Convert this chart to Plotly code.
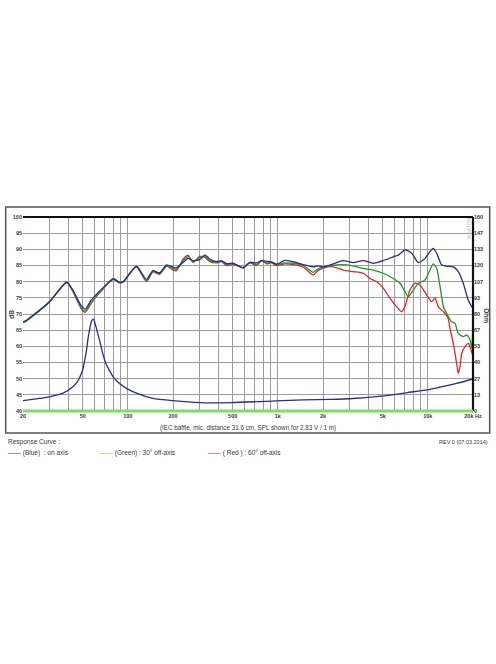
import plotly.graph_objects as go

# ---------------- data ----------------
blue_f = [20, 21, 25.8, 30, 38, 39.5, 43, 49, 52, 57, 68, 80, 88, 93, 114, 133, 147, 163, 181, 200,
          211, 234, 252, 272, 302, 326, 352, 390, 421, 455, 503, 531, 587, 650, 721, 778, 841, 908,
          980, 1114, 1265, 1476, 1721, 1858, 2006, 2340, 2729, 3180, 3708, 4326, 5043, 5880, 6352,
          7036, 7800, 8630, 9570, 10330, 10860, 11456, 12360, 13350, 14780, 15960, 17220, 18600,
          19590, 20000]
blue_db = [67.5, 68.0, 71.2, 73.8, 79.5, 79.8, 77.4, 72.5, 71.5, 74.3, 78.0, 80.7, 79.8, 80.0, 84.8,
           80.7, 83.4, 82.7, 85.2, 84.5, 84.3, 86.0, 87.2, 86.5, 86.8, 88.3, 87.0, 86.2, 86.5, 85.6,
           85.7, 85.2, 84.2, 86.0, 85.8, 86.5, 86.3, 86.1, 85.4, 86.6, 86.2, 85.3, 84.6, 84.9, 84.6,
           85.5, 86.5, 85.9, 86.5, 85.7, 86.5, 87.7, 88.2, 89.8, 88.8, 85.9, 87.2, 89.3, 90.3, 88.8,
           85.2, 84.8, 84.6, 83.1, 79.5, 74.3, 72.3, 71.8]

green_f = [20, 21, 25.8, 30, 38, 39.5, 43, 49, 52, 57, 68, 80, 88, 93, 114, 133, 147, 163, 181, 200,
           211, 234, 252, 272, 302, 326, 352, 390, 421, 455, 503, 531, 587, 650, 721, 778, 841, 908,
           980, 1114, 1265, 1476, 1721, 1858, 2006, 2465, 2874, 3350, 3708, 4326, 5043, 5880, 6520,
           7036, 7400, 8000, 8630, 9570, 10330, 10860, 11456, 12050, 12680, 13000, 13680, 14420,
           15170, 15960, 17220, 18160, 19100, 19590, 20000]
green_db = [67.3, 67.8, 71.0, 73.7, 79.4, 79.7, 77.2, 71.8, 70.8, 73.5, 77.8, 81.0, 79.8, 79.9, 84.7,
            80.2, 83.2, 82.5, 85.0, 84.0, 83.8, 86.5, 87.8, 86.3, 87.5, 87.8, 86.5, 86.0, 86.3, 85.3,
            85.5, 85.2, 84.3, 85.8, 85.3, 86.4, 85.8, 86.0, 85.3, 85.8, 85.7, 85.0, 82.9, 84.0, 84.5,
            85.2, 85.2, 84.6, 84.1, 83.6, 82.6, 81.0, 79.5, 76.9, 75.3, 77.4, 79.5, 80.5, 83.6, 85.5,
            84.1, 78.6, 72.3, 71.2, 69.2, 67.6, 67.1, 64.0, 63.0, 63.5, 62.0, 59.4, 67.1]

red_f = [20, 21, 25.8, 30, 38, 39.5, 43, 49, 52, 57, 68, 80, 88, 93, 114, 133, 147, 163, 181, 200,
         211, 234, 252, 272, 302, 326, 352, 390, 421, 455, 503, 531, 587, 650, 721, 778, 841, 908,
         980, 1114, 1265, 1476, 1721, 1858, 2006, 2340, 2729, 3180, 3708, 4111, 4558, 5043, 5586,
         6194, 6690, 7036, 7600, 8200, 8854, 9820, 10600, 11160, 11734, 12680, 13000, 13680, 14050,
         14780, 15560, 15960, 16380, 16820, 17690, 18600, 19590, 20000]
red_db = [67.4, 67.9, 71.1, 73.7, 79.4, 79.6, 77.0, 71.5, 70.5, 73.3, 77.6, 81.0, 79.6, 79.8, 84.6,
          80.0, 83.0, 82.3, 84.8, 83.6, 83.4, 87.0, 88.2, 86.0, 87.8, 87.5, 86.2, 85.8, 86.2, 85.0,
          85.3, 85.0, 84.4, 85.9, 85.0, 86.5, 85.5, 85.8, 85.0, 85.5, 85.3, 84.5, 82.1, 83.5, 84.2,
          84.6, 83.6, 83.1, 82.6, 81.0, 80.0, 78.0, 74.9, 72.3, 70.7, 72.3, 77.4, 79.5, 79.0, 75.9,
          73.8, 74.9, 72.3, 70.7, 70.2, 68.5, 65.5, 60.9, 54.7, 51.6, 53.7, 57.8, 59.9, 60.9, 58.3,
          56.8]

imp_f = [20, 25.8, 30, 37, 43, 46, 48, 50, 51.6, 53, 54.5, 56, 57, 58, 58.8, 59.5, 60, 61.5, 63,
         65.5, 68, 71, 75, 80, 88, 100, 114, 147, 200, 302, 490, 980, 1476, 2224, 3000, 4900, 7300,
         10330, 15560, 20000]
imp_ohm = [8.5, 10.4, 11.7, 14.7, 20.0, 24.0, 28.3, 34.0, 42.1, 50.0, 61.3, 69.0, 73.6, 75.2, 75.8,
           75.3, 73.6, 69.0, 64.0, 56.0, 47.5, 40.0, 33.9, 28.0, 22.7, 18.0, 14.7, 10.4, 8.5, 6.9,
           6.9, 8.3, 9.1, 9.6, 10.1, 12.3, 15.2, 17.9, 22.7, 26.4]

grid_freqs = [20, 30, 40, 50, 60, 70, 80, 90, 100, 200, 300, 400, 500, 600, 700, 800, 900,
              1000, 2000, 3000, 4000, 5000, 6000, 7000, 8000, 9000, 10000, 20000]
freq_labels = {20: "20", 50: "50", 100: "100", 200: "200", 500: "500", 1000: "1k",
               2000: "2k", 5000: "5k", 10000: "10k", 20000: "20k Hz"}
db_ticks = list(range(40, 101, 5))
ohm_labels = ["0", "13", "27", "40", "53", "67", "80", "93", "107", "120", "133", "147", "160"]

# ---------------- styling ----------------
BLUE = "#2b2b8f"
GREEN = "#1f9a26"
RED = "#e3262a"
GRID = "#9c9c9c"
TXT = "#3a3a3a"
FONT = "Liberation Sans, Arial, sans-serif"

W, H = 496, 664
L, R, T, B = 23.3, 473.3, 217, 411  # plot area in page px


def px_x(p):
    return (p - L) / (R - L)


def px_y(p):
    return (B - p) / (B - T)


fig = go.Figure()
line_kw = dict(shape="spline", smoothing=0.6, width=1.3)

fig.add_trace(go.Scatter(x=imp_f, y=imp_ohm, yaxis="y2", mode="lines",
                         line=dict(color=BLUE, **line_kw), showlegend=False, hoverinfo="skip"))
fig.add_trace(go.Scatter(x=red_f, y=red_db, mode="lines",
                         line=dict(color=RED, **line_kw), showlegend=False))
fig.add_trace(go.Scatter(x=green_f, y=green_db, mode="lines",
                         line=dict(color=GREEN, **line_kw), showlegend=False))
fig.add_trace(go.Scatter(x=blue_f, y=blue_db, mode="lines",
                         line=dict(color=BLUE, **line_kw), showlegend=False))

tickfont = dict(size=5.5, color=TXT, family=FONT)
fig.update_layout(
    width=W, height=H,
    margin=dict(l=L, r=W - R, t=T, b=H - B, pad=0, autoexpand=False),
    paper_bgcolor="white", plot_bgcolor="white",
    font=dict(family=FONT, color=TXT, size=6),
    xaxis=dict(type="log", range=[1.30103, 4.30103], tickmode="array",
               tickvals=grid_freqs,
               ticktext=[f"<b>{freq_labels[f]}</b>" if f in freq_labels else "" for f in grid_freqs],
               showgrid=True, gridcolor=GRID, gridwidth=1.2, zeroline=False,
               ticks="", ticklen=0, tickfont=tickfont,
               showline=False, fixedrange=True, automargin=False),
    yaxis=dict(range=[40, 100], tickmode="array", tickvals=db_ticks,
               ticktext=[f"<b>{v}</b>" for v in db_ticks], showgrid=True, gridcolor=GRID,
               gridwidth=1.2, zeroline=False, ticks="", tickfont=tickfont,
               showline=False, fixedrange=True, automargin=False),
    yaxis2=dict(range=[0, 160], overlaying="y", side="right", tickmode="array",
                tickvals=[i * 160 / 12 for i in range(13)],
                ticktext=[f"<b>{t}</b>" for t in ohm_labels],
                showgrid=False, zeroline=False, ticks="", tickfont=tickfont,
                showline=False, fixedrange=True, automargin=False),
)

shapes = [
    dict(type="rect", xref="paper", yref="paper", x0=px_x(6), x1=px_x(490),
         y0=px_y(433), y1=px_y(207), line=dict(color="#555555", width=1.5), layer="below"),
    dict(type="line", xref="paper", yref="paper", x0=0, x1=1, y0=1, y1=1,
         line=dict(color="#111111", width=2.2)),
    dict(type="line", xref="paper", yref="paper", x0=1, x1=1, y0=0, y1=1,
         line=dict(color="#111111", width=2.2)),
    dict(type="line", xref="paper", yref="paper", x0=0, x1=1, y0=0, y1=0,
         line=dict(color="#7ddc6a", width=3)),
]
fig.update_layout(shapes=shapes)

ann = [
    dict(text="<b>dB</b>", x=px_x(11), y=px_y(314), textangle=-90, font=dict(size=6.5, color=TXT)),
    dict(text="<b>Ohm</b>", x=px_x(487), y=px_y(316), textangle=90, font=dict(size=6.5, color=TXT)),
    dict(text="VISATON", x=px_x(469.5), y=px_y(228), textangle=-90,
         font=dict(size=5, color="#b8b8b8")),
    dict(text="(IEC baffle, mic. distance 31.6 cm, SPL shown for 2.83 V / 1 m)",
         x=px_x(248), y=px_y(428), font=dict(size=6.3, color=TXT)),
    dict(text="Response Curve :", x=px_x(6.5), y=px_y(442), xanchor="left",
         font=dict(size=6.5, color=TXT)),
    dict(text="REV 0 (07.03.2014)", x=px_x(490), y=px_y(442), xanchor="right",
         font=dict(size=5.5, color=TXT)),
    dict(text=f"<span style='color:{BLUE}'>——</span> (Blue)  : on axis", x=px_x(6.5),
         y=px_y(453), xanchor="left", font=dict(size=6.5, color=TXT)),
    dict(text="<span style='color:#a6bd2c'>——</span> (Green) : 30° off-axis", x=px_x(98),
         y=px_y(453), xanchor="left", font=dict(size=6.5, color=TXT)),
    dict(text=f"<span style='color:{RED}'>——</span> ( Red ) : 60° off-axis", x=px_x(206),
         y=px_y(453), xanchor="left", font=dict(size=6.5, color=TXT)),
]
for a in ann:
    a.setdefault("xanchor", "center")
    a.update(xref="paper", yref="paper", showarrow=False, yanchor="middle")
fig.update_layout(annotations=ann)

fig.write_html("out.html", config={"displayModeBar": False},
               post_script="document.body.style.margin='0';document.body.style.overflow='hidden';")
